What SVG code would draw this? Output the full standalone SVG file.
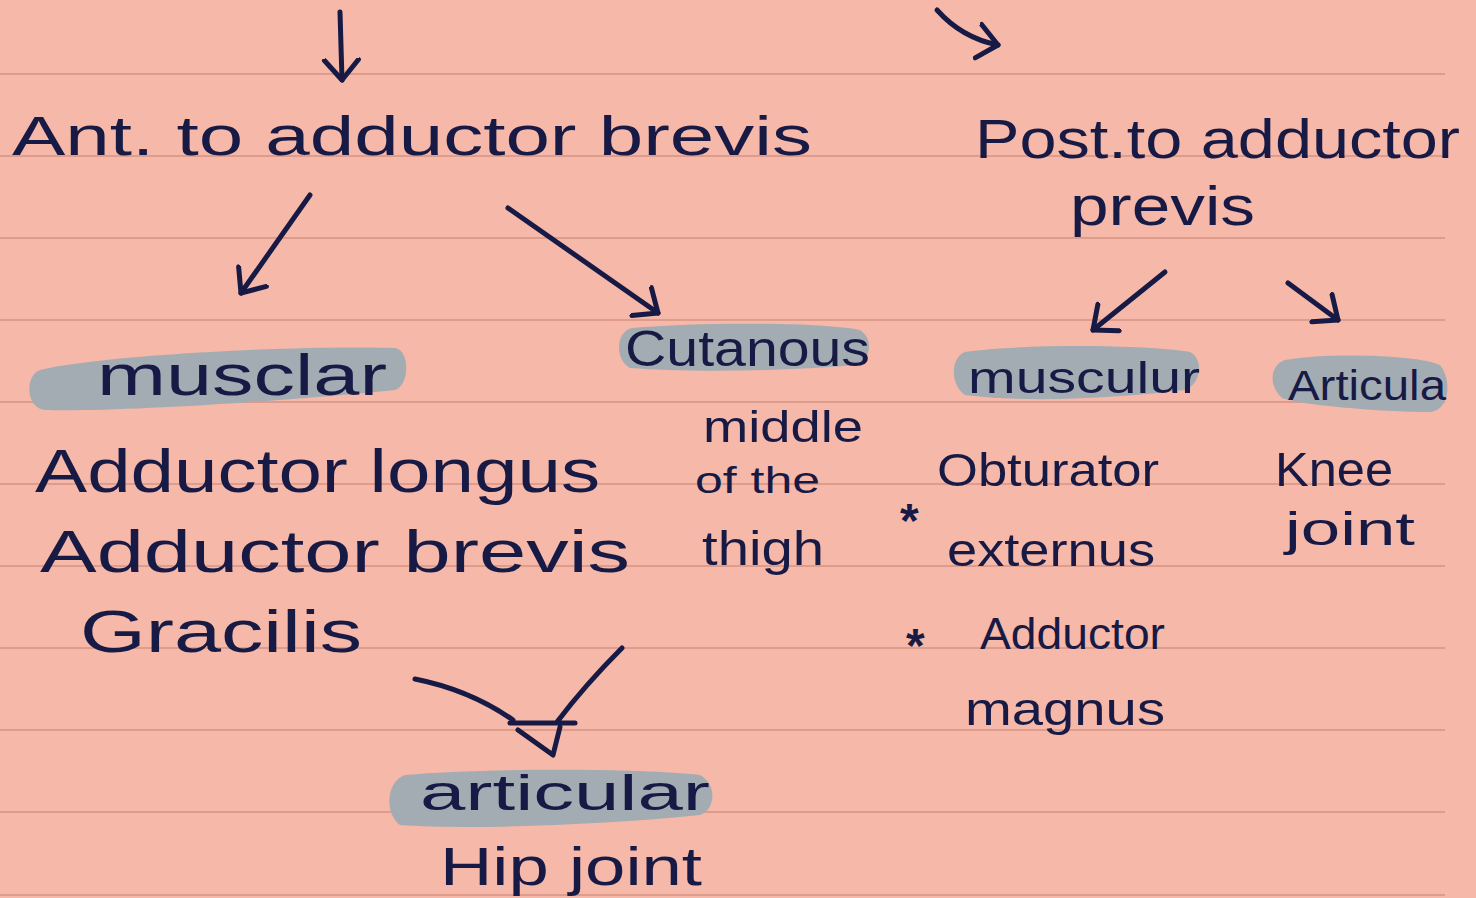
<svg xmlns="http://www.w3.org/2000/svg" width="1476" height="898" viewBox="0 0 1476 898">
<defs>
<style>
.rule{stroke:#DE9C8C;stroke-width:2;fill:none}
.ink{fill:#171A45;font-family:"Liberation Sans","DejaVu Sans",sans-serif}
.hl{fill:#A3ACB3}
.arr{stroke:#171A45;stroke-width:5;fill:none;stroke-linecap:round;stroke-linejoin:round}
.star{font-weight:bold;font-size:48px}
</style>
<marker id="head" markerUnits="userSpaceOnUse" markerWidth="44" markerHeight="44" refX="22" refY="22" orient="auto" viewBox="0 0 44 44">
<path d="M2,5 L22,22 L2,39" fill="none" stroke="#171A45" stroke-width="5" stroke-linecap="round" stroke-linejoin="round"/>
</marker>
</defs>
<rect width="1476" height="898" fill="#F6B8A8"/>
<g id="paper">
<path class="rule" d="M0,74H1445M0,156H1445M0,238H1445M0,320H1445M0,402H1445M0,484H1445M0,566H1445M0,648H1445M0,730H1445M0,812H1445M0,895H1445"/>
</g>
<g id="connectors">
<path class="arr" d="M340,12 L342,80" marker-end="url(#head)"/>
<path class="arr" d="M937,10 Q962,38 998,45" marker-end="url(#head)"/>
<path class="arr" d="M310,195 L241,293" marker-end="url(#head)"/>
<path class="arr" d="M508,208 L658,313" marker-end="url(#head)"/>
<path class="arr" d="M1165,272 L1093,330" marker-end="url(#head)"/>
<path class="arr" d="M1288,283 L1338,320" marker-end="url(#head)"/>
<path class="arr" d="M415,679 Q470,690 513,720 M622,648 Q585,685 557,722 M510,723 L575,723 M518,730 L553,755 L560,727"/>
</g>
<g id="node-ant">
<text class="ink" x="12" y="155" font-size="56" textLength="800" lengthAdjust="spacingAndGlyphs">Ant. to adductor brevis</text>
</g>
<g id="node-post">
<text class="ink" x="975" y="158" font-size="56" textLength="485" lengthAdjust="spacingAndGlyphs">Post.to adductor</text>
<text class="ink" x="1070" y="225" font-size="56" textLength="185" lengthAdjust="spacingAndGlyphs">previs</text>
</g>
<g id="node-muscular">
<path class="hl" d="M40,370 C100,355 300,345 395,348 C410,350 410,385 395,390 C300,400 120,412 45,410 C25,408 25,375 40,370 Z"/>
<text class="ink" x="97" y="395" font-size="58" textLength="290" lengthAdjust="spacingAndGlyphs">musclar</text>
<text class="ink" x="35" y="492" font-size="62" textLength="565" lengthAdjust="spacingAndGlyphs">Adductor longus</text>
<text class="ink" x="40" y="572" font-size="60" textLength="590" lengthAdjust="spacingAndGlyphs">Adductor brevis</text>
<text class="ink" x="80" y="652" font-size="60" textLength="282" lengthAdjust="spacingAndGlyphs">Gracilis</text>
</g>
<g id="node-cutaneous">
<path class="hl" d="M632,328 C700,322 820,322 860,330 C875,340 870,362 855,365 C780,372 680,372 630,368 C615,360 615,332 632,328 Z"/>
<text class="ink" x="625" y="366" font-size="50" textLength="245" lengthAdjust="spacingAndGlyphs">Cutanous</text>
<text class="ink" x="703" y="442" font-size="44" textLength="160" lengthAdjust="spacingAndGlyphs">middle</text>
<text class="ink" x="695" y="493" font-size="36" textLength="125" lengthAdjust="spacingAndGlyphs">of the</text>
<text class="ink" x="702" y="565" font-size="48" textLength="122" lengthAdjust="spacingAndGlyphs">thigh</text>
</g>
<g id="node-articular-ant">
<path class="hl" d="M405,775 C480,768 640,768 700,775 C718,785 715,810 700,815 C600,825 470,830 400,825 C385,815 385,782 405,775 Z"/>
<text class="ink" x="420" y="810" font-size="50" textLength="290" lengthAdjust="spacingAndGlyphs">articular</text>
<text class="ink" x="440" y="885" font-size="54" textLength="262" lengthAdjust="spacingAndGlyphs">Hip joint</text>
</g>
<g id="node-muscular-post">
<path class="hl" d="M965,352 C1030,343 1150,345 1190,352 C1205,360 1200,385 1185,390 C1100,400 1020,402 965,395 C950,385 950,358 965,352 Z"/>
<text class="ink" x="968" y="393" font-size="44" textLength="232" lengthAdjust="spacingAndGlyphs">musculur</text>
<text class="ink" x="937" y="486" font-size="46" textLength="222" lengthAdjust="spacingAndGlyphs">Obturator</text>
<text class="ink star" x="900" y="537">*</text>
<text class="ink" x="947" y="566" font-size="46" textLength="208" lengthAdjust="spacingAndGlyphs">externus</text>
<text class="ink star" x="906" y="662">*</text>
<text class="ink" x="980" y="649" font-size="44" textLength="185" lengthAdjust="spacingAndGlyphs">Adductor</text>
<text class="ink" x="965" y="725" font-size="46" textLength="200" lengthAdjust="spacingAndGlyphs">magnus</text>
</g>
<g id="node-articular-post">
<path class="hl" d="M1285,360 C1330,352 1420,355 1440,365 C1452,380 1450,410 1430,412 C1380,412 1300,405 1282,398 C1268,385 1270,365 1285,360 Z"/>
<text class="ink" x="1288" y="400" font-size="42" textLength="158" lengthAdjust="spacingAndGlyphs">Articula</text>
<text class="ink" x="1275" y="486" font-size="48" textLength="118" lengthAdjust="spacingAndGlyphs">Knee</text>
<text class="ink" x="1285" y="545" font-size="46" textLength="130" lengthAdjust="spacingAndGlyphs">joint</text>
</g>
</svg>
